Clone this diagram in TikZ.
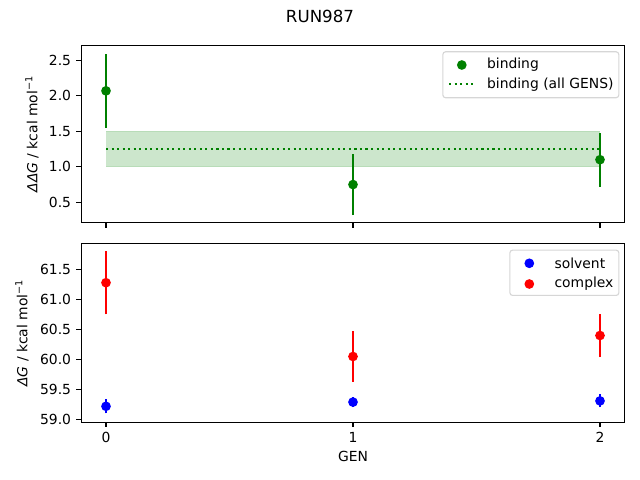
\documentclass[tikz,border=0pt]{standalone}
\usepackage{fontspec}
\setmainfont{DejaVu Sans}
\usepackage{tikz}
\usetikzlibrary{positioning}

\definecolor{mplgreen}{HTML}{008000}
\definecolor{mplblue}{HTML}{0000FF}
\definecolor{mplred}{HTML}{FF0000}
\definecolor{bandgreen}{HTML}{CCE6CC}
\definecolor{bandedge}{HTML}{B8DCB8}
\definecolor{legframe}{HTML}{D6D6D6}

\tikzset{
  axframe/.style={line width=0.8pt},
  tickmark/.style={line width=0.8pt},
  errbar/.style={line width=1.5pt},
  dotmark/.style={radius=3.5pt},
  ticklabel/.style={font=\fontsize{10}{12}\selectfont, inner sep=0pt},
  axlabel/.style={font=\fontsize{10}{12}\selectfont, inner sep=0pt},
  legendbox/.style={draw=legframe, fill=white, line width=0.8pt, rounded corners=2pt, inner sep=0pt},
  legendtext/.style={font=\fontsize{10}{12}\selectfont, inner sep=0pt, anchor=west},
  meanline/.style={mplgreen, line width=1.5pt, dash pattern=on 1.5pt off 2.475pt},
}

\begin{document}
\begin{tikzpicture}[x=0.72pt, y=0.72pt]
  \useasboundingbox (0,0) rectangle (640,480);

  % Title
  \node[font=\fontsize{12}{14}\selectfont, inner sep=0pt] (title) at (320,463.7) {RUN987};

  % Top panel: binding
  \begin{scope}[xshift=76.32pt, yshift=174.38pt, x=177.84pt, y=51.12pt]
  \fill[bandgreen] (0,1.0) rectangle (2,1.5);
  \draw[bandedge, line width=0.8pt] (0,1.0) -- (2,1.0) (0,1.5) -- (2,1.5);
  \draw[meanline] (0,1.25) -- (2,1.25);
  \foreach \g/\v/\e in {0/2.07/0.52, 1/0.75/0.43, 2/1.10/0.38} {
    \draw[errbar, mplgreen] (\g,\v-\e) -- (\g,\v+\e);
    \fill[mplgreen] (\g,\v) circle[dotmark];
  }
  \draw[axframe] (-0.1,0.2095) rectangle (2.1,2.71);
  \foreach \g in {0,1,2}
    \draw[tickmark] (\g,0.2095) -- ++(0,-3.5pt);
  \foreach \v [count=\i] in {0.5,1.0,1.5,2.0,2.5}
    \draw[tickmark] (-0.1,\v) -- ++(-3.5pt,0)
      node[ticklabel, anchor=east, xshift=-3.5pt] (tya\i) {\v};
  \end{scope}
  \node[axlabel, rotate=90] (ylaba) at (32,346) {{\itshape ΔΔG} / kcal mol\textsuperscript{−1}};

  % legend (top)
  \node[legendbox, minimum width=126.7pt, minimum height=33.1pt, anchor=south west] (lega) at (442.3,381.7) {};
  \fill[mplgreen] (461.8,415) circle[dotmark];
  \node[legendtext] (legbind) at (486.8,415) {binding};
  \draw[meanline] (449,395.7) -- (475.7,395.7);
  \node[legendtext] (legall) at (486.8,395.7) {binding (all GENS)};

  % Bottom panel: solvent / complex
  \begin{scope}[xshift=76.32pt, yshift=-2505.24pt, x=177.84pt, y=43.2pt]
  \foreach \g/\v/\e in {0/59.22/0.12, 1/59.29/0.09, 2/59.31/0.11} {
    \draw[errbar, mplblue] (\g,\v-\e) -- (\g,\v+\e);
    \fill[mplblue] (\g,\v) circle[dotmark];
  }
  \foreach \g/\v/\e in {0/61.28/0.53, 1/60.05/0.42, 2/60.40/0.36} {
    \draw[errbar, mplred] (\g,\v-\e) -- (\g,\v+\e);
    \fill[mplred] (\g,\v) circle[dotmark];
  }
  \draw[axframe] (-0.1,58.955) rectangle (2.1,61.935);
  \foreach \g [count=\i] in {0,1,2}
    \draw[tickmark] (\g,58.955) -- ++(0,-3.5pt)
      node[ticklabel, anchor=north, yshift=-3.5pt] (tx\i) {\g};
  \foreach \v [count=\i] in {59.0,59.5,60.0,60.5,61.0,61.5}
    \draw[tickmark] (-0.1,\v) -- ++(-3.5pt,0)
      node[ticklabel, anchor=east, xshift=-3.5pt] (tyb\i) {\v};
  \end{scope}
  \node[axlabel, rotate=90] (ylabb) at (22,147) {{\itshape ΔG} / kcal mol\textsuperscript{−1}};
  \node[axlabel] (xlab) at (353,23.3) {GEN};

  % legend (bottom)
  \node[legendbox, minimum width=78.5pt, minimum height=32.6pt, anchor=south west] (legb) at (509.3,184) {};
  \fill[mplblue] (529.3,216.7) circle[dotmark];
  \node[legendtext] (legsolv) at (554.3,216.7) {solvent};
  \fill[mplred] (529.3,196) circle[dotmark];
  \node[legendtext] (legcplx) at (554.3,196) {complex};
\end{tikzpicture}
\end{document}
